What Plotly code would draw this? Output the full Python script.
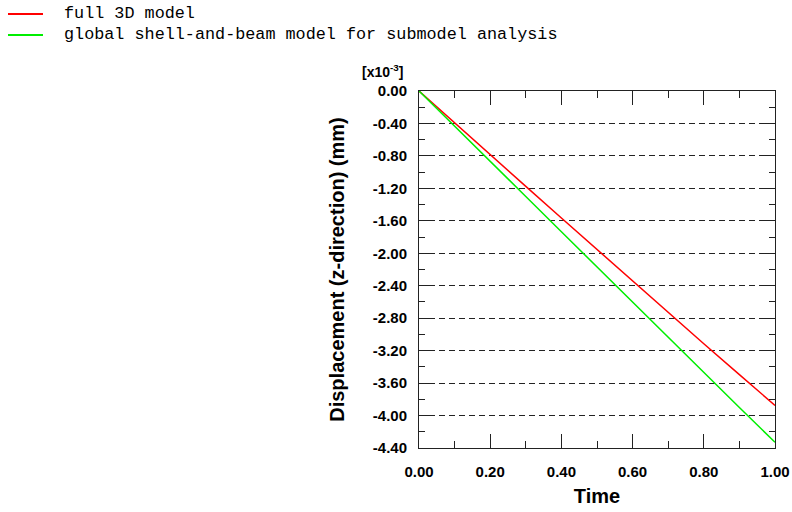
import plotly.graph_objects as go

time = [0.0, 0.1, 0.2, 0.3, 0.4, 0.5, 0.6, 0.7, 0.8, 0.9, 1.0]
full_3d = [0.0, -0.395, -0.785, -1.175, -1.565, -1.955, -2.34, -2.73, -3.115, -3.495, -3.875]
shell_beam = [0.0, -0.43, -0.865, -1.30, -1.735, -2.17, -2.605, -3.04, -3.47, -3.90, -4.33]
series_names = ["full 3D model", "global shell-and-beam model for submodel analysis"]
series_colors = ["#ff0000", "#00ee00"]
y_ticks = [0.0, -0.4, -0.8, -1.2, -1.6, -2.0, -2.4, -2.8, -3.2, -3.6, -4.0, -4.4]
x_ticks = [0.0, 0.2, 0.4, 0.6, 0.8, 1.0]

fig = go.Figure()
for name, ys, col in zip(series_names, [full_3d, shell_beam], series_colors):
    fig.add_trace(go.Scatter(x=time, y=ys, mode="lines", name=name,
                             line=dict(color=col, width=1.5), showlegend=False))

tickfont = dict(family="Liberation Sans, Arial, sans-serif", size=15, color="black", weight="bold")
titlefont = dict(family="Liberation Sans, Arial, sans-serif", size=20, color="black", weight="bold")

# manual legend (top-left of page), in paper coordinates of the plot area
legend_rows_y = [1.2157, 1.1569]
shapes = []
annotations = []
for name, col, ly in zip(series_names, series_colors, legend_rows_y):
    shapes.append(dict(type="line", xref="paper", yref="paper",
                       x0=-1.1545, x1=-1.0562, y0=ly, y1=ly,
                       line=dict(color=col, width=2)))
    annotations.append(dict(text=name, xref="paper", yref="paper",
                            x=-1.0028, y=ly, xanchor="left", yanchor="middle",
                            showarrow=False,
                            font=dict(family="Liberation Mono, Courier New, monospace",
                                      size=16.8, color="black")))
annotations.append(dict(
    text="[x10<sup>-3</sup>]", xref="paper", yref="paper",
    x=-0.04, y=1.025, xanchor="right", yanchor="bottom", showarrow=False,
    font=dict(family="Liberation Sans, Arial, sans-serif", size=14, color="black", weight="bold"),
))

fig.update_layout(
    width=792, height=512,
    margin=dict(l=419, r=17, t=91, b=64, autoexpand=False),
    paper_bgcolor="white", plot_bgcolor="white",
    showlegend=False,
    xaxis=dict(
        range=[0, 1], tickvals=x_ticks, ticktext=[f"{v:.2f}" for v in x_ticks],
        ticks="inside", ticklen=14, tickwidth=1, tickcolor="#222",
        minor=dict(dtick=0.1, ticks="inside", ticklen=7, tickcolor="#222", showgrid=False),
        showline=True, linecolor="#222", linewidth=1, mirror="allticks",
        showgrid=False, zeroline=False,
        tickfont=tickfont, ticklabelstandoff=10,
        title=dict(text="Time", font=titlefont, standoff=9),
    ),
    yaxis=dict(
        range=[-4.4, 0], tickvals=y_ticks, ticktext=[f"{v:.2f}" for v in y_ticks],
        ticks="inside", ticklen=14, tickwidth=1, tickcolor="#222",
        minor=dict(dtick=0.2, tick0=0, ticks="inside", ticklen=6, tickcolor="#222", showgrid=False),
        showline=True, linecolor="#222", linewidth=1, mirror="allticks",
        showgrid=True, gridcolor="#222", gridwidth=1, griddash="6px,4px",
        zeroline=False,
        tickfont=tickfont, ticklabelstandoff=8,
        title=dict(text="Displacement (z-direction) (mm)", font=titlefont, standoff=22),
    ),
    shapes=shapes,
    annotations=annotations,
)

fig.write_html("out.html")
